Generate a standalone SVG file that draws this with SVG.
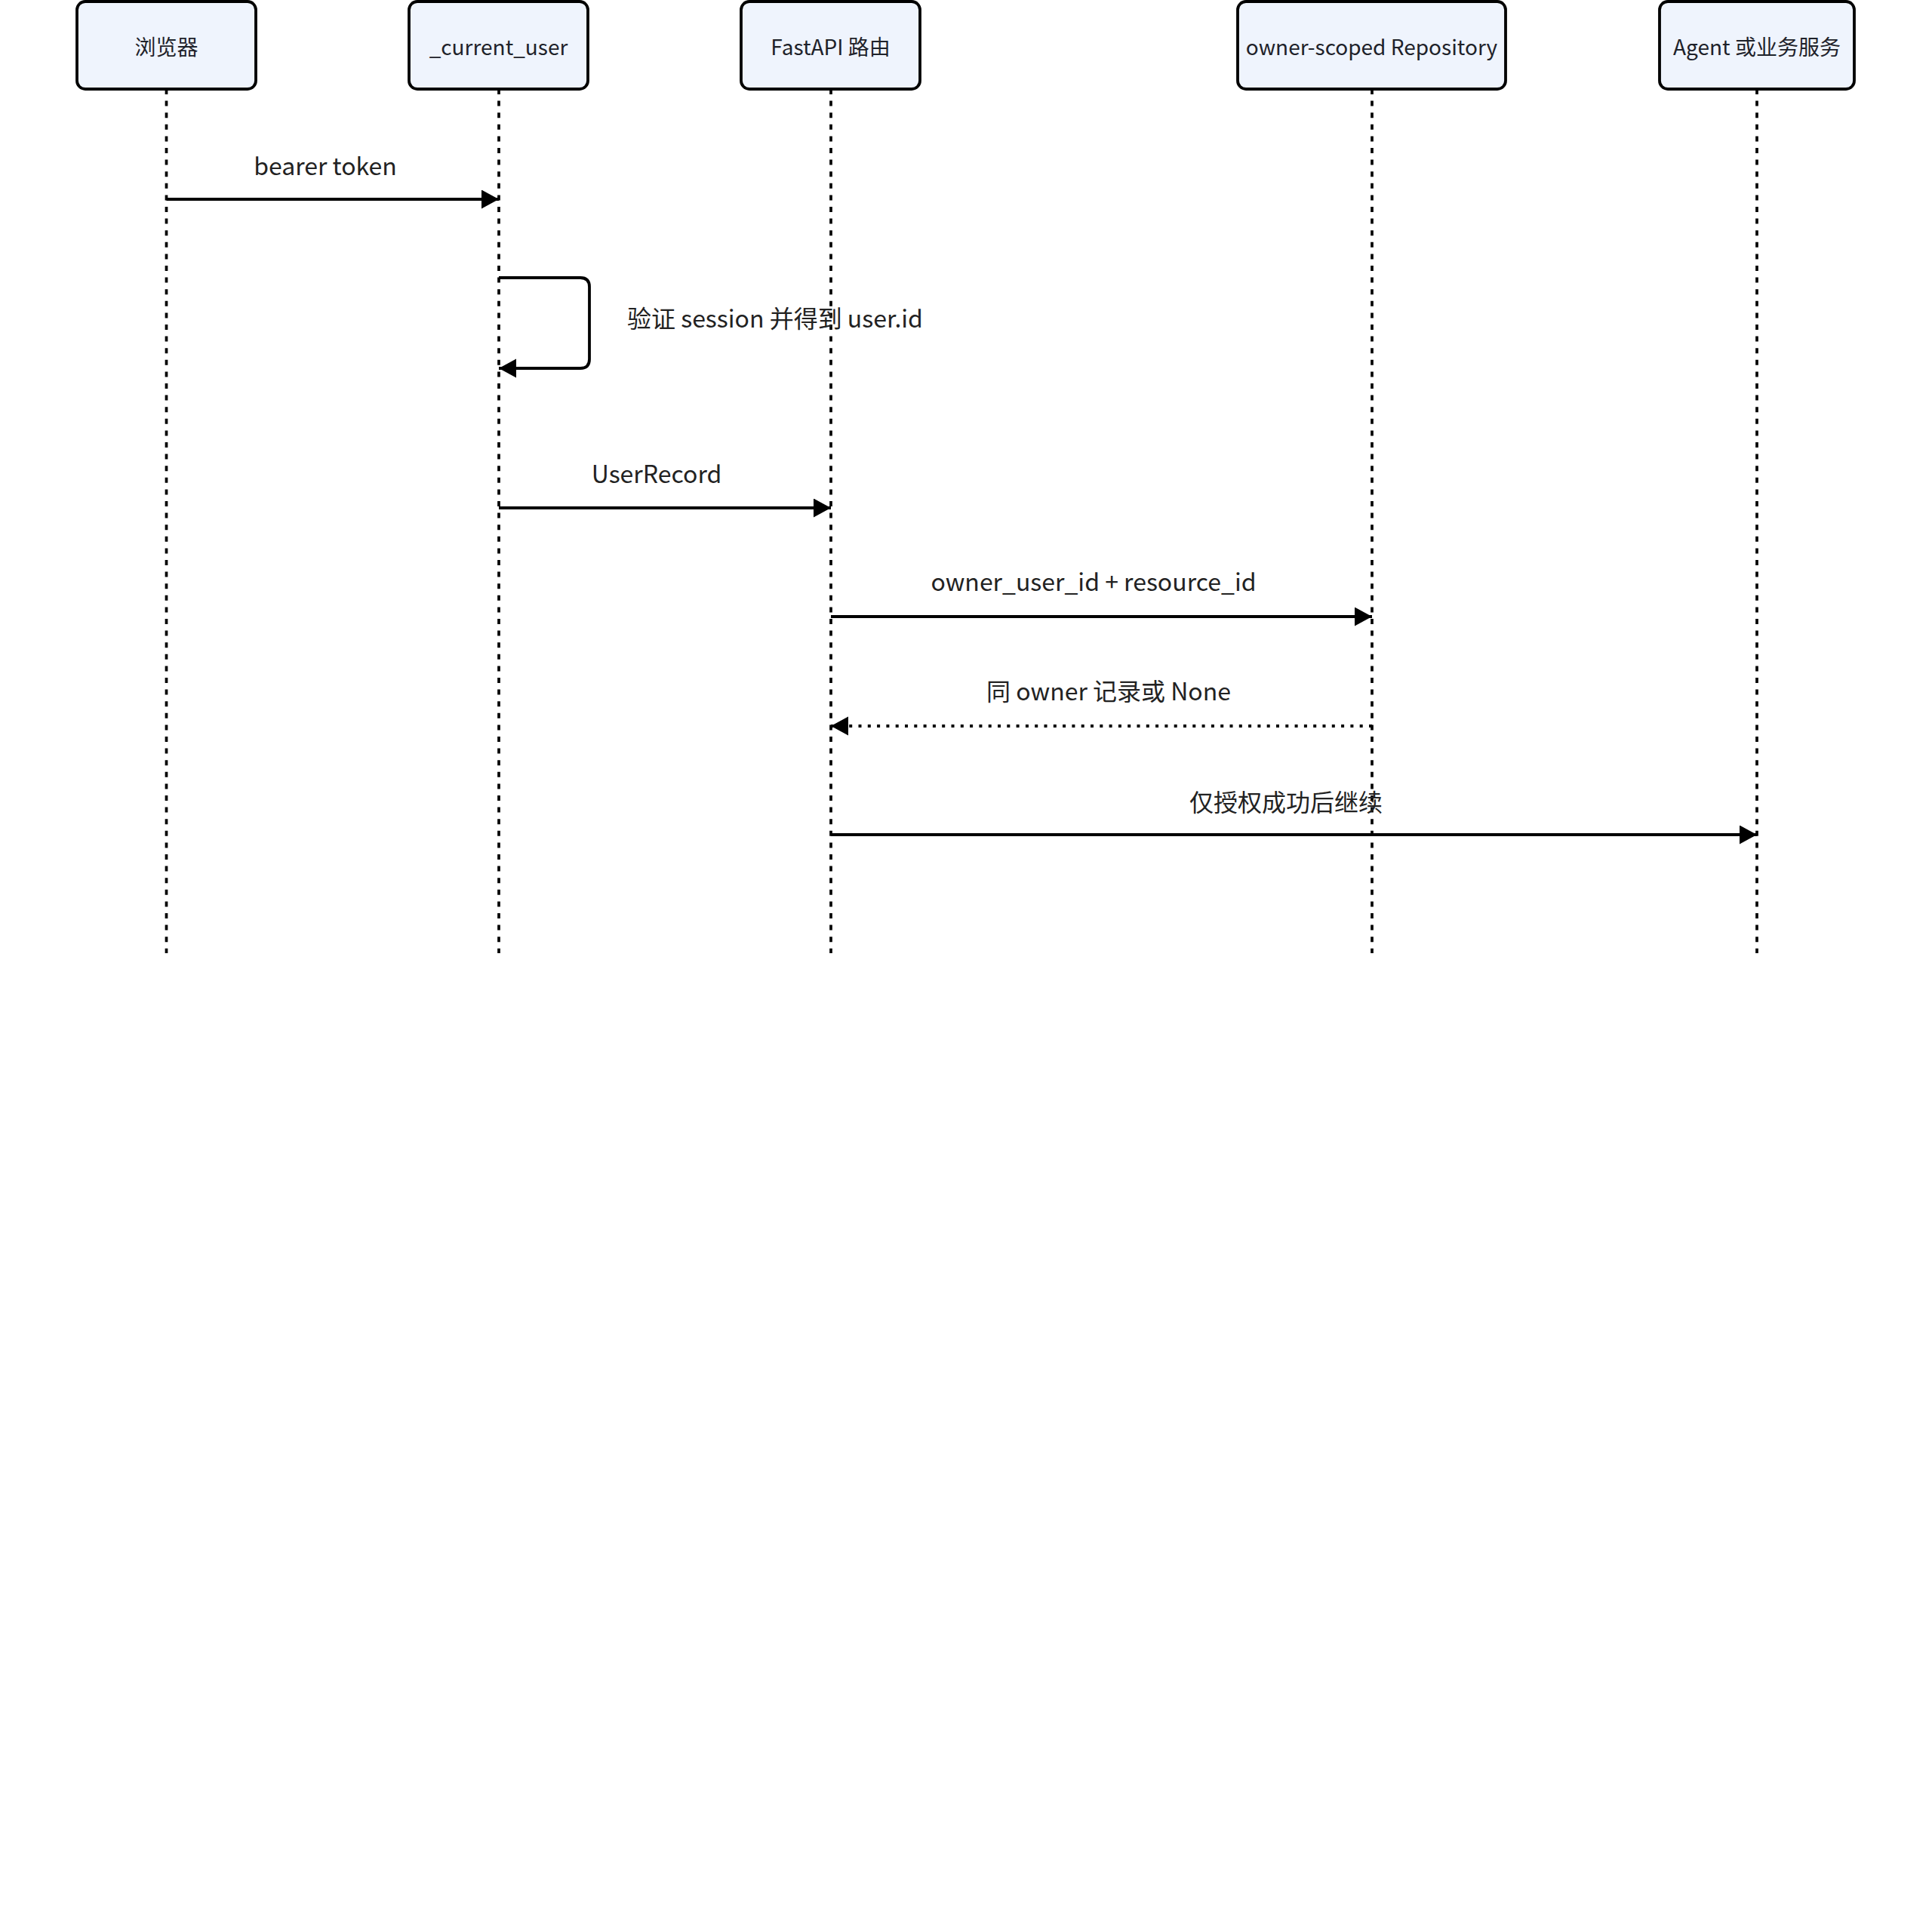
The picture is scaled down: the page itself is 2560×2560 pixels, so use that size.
<svg xmlns="http://www.w3.org/2000/svg" width="2560" height="2560" viewBox="0 0 2560 2560">
<style>
.actor rect{fill:#eff4fd;stroke:#000;stroke-width:3.8}
.actor text{font-family:"Noto Sans CJK SC","Noto Sans",sans-serif;font-size:28px;fill:#1e222a;text-anchor:middle}
.life{stroke:#000;stroke-width:3.7;stroke-dasharray:7 8.6;fill:none}
.msg{stroke:#000;stroke-width:3.8;fill:none}
.dot{stroke:#000;stroke-width:4;fill:none;stroke-dasharray:4 8.3}
.lbl{font-family:"Noto Sans CJK SC","Noto Sans",sans-serif;font-size:32px;fill:#222;text-anchor:middle}
</style>
<defs>
<marker id="ah" markerUnits="userSpaceOnUse" markerWidth="24" markerHeight="26" refX="23" refY="12.5" orient="auto">
<path d="M0,0 L23,12.5 L0,25 z" fill="#000"/>
</marker>
</defs>
<rect width="2560" height="2560" fill="#fff"/>
<g id="lifelines">
<line class="life" x1="220.5" y1="118" x2="220.5" y2="1263"/>
<line class="life" x1="661" y1="118" x2="661" y2="1263"/>
<line class="life" x1="1101" y1="118" x2="1101" y2="1263"/>
<line class="life" x1="1818" y1="118" x2="1818" y2="1263"/>
<line class="life" x1="2328" y1="118" x2="2328" y2="1263"/>
</g>
<g id="actor-browser" class="actor"><rect x="102" y="2" width="237" height="116" rx="11"/><text x="220.5" y="73">浏览器</text></g>
<g id="actor-current-user" class="actor"><rect x="542" y="2" width="237" height="116" rx="11"/><text x="660.5" y="73">_current_user</text></g>
<g id="actor-fastapi" class="actor"><rect x="982" y="2" width="237" height="116" rx="11"/><text x="1100.5" y="73">FastAPI 路由</text></g>
<g id="actor-repo" class="actor"><rect x="1640" y="2" width="355" height="116" rx="11"/><text x="1817.5" y="73">owner-scoped Repository</text></g>
<g id="actor-agent" class="actor"><rect x="2199" y="2" width="258" height="116" rx="11"/><text x="2328" y="73">Agent 或业务服务</text></g>
<g id="connectors">
<line class="msg" x1="220.5" y1="264" x2="661" y2="264" marker-end="url(#ah)"/>
<text class="lbl" x="431" y="232">bearer token</text>
<path class="msg" d="M661,368 H769 Q781,368 781,380 V476 Q781,488 769,488 H661" marker-end="url(#ah)"/>
<text class="lbl" x="831" y="434" style="text-anchor:start">验证 session 并得到 user.id</text>
<line class="msg" x1="661" y1="673" x2="1101" y2="673" marker-end="url(#ah)"/>
<text class="lbl" x="870" y="640">UserRecord</text>
<line class="msg" x1="1101" y1="817" x2="1818" y2="817" marker-end="url(#ah)"/>
<text class="lbl" x="1449" y="783">owner_user_id + resource_id</text>
<line class="dot" x1="1818" y1="962" x2="1101" y2="962" marker-end="url(#ah)"/>
<text class="lbl" x="1469" y="928">同 owner 记录或 None</text>
<line class="msg" x1="1101" y1="1106" x2="2328" y2="1106" marker-end="url(#ah)"/>
<text class="lbl" x="1704" y="1075">仅授权成功后继续</text>
</g>
</svg>
